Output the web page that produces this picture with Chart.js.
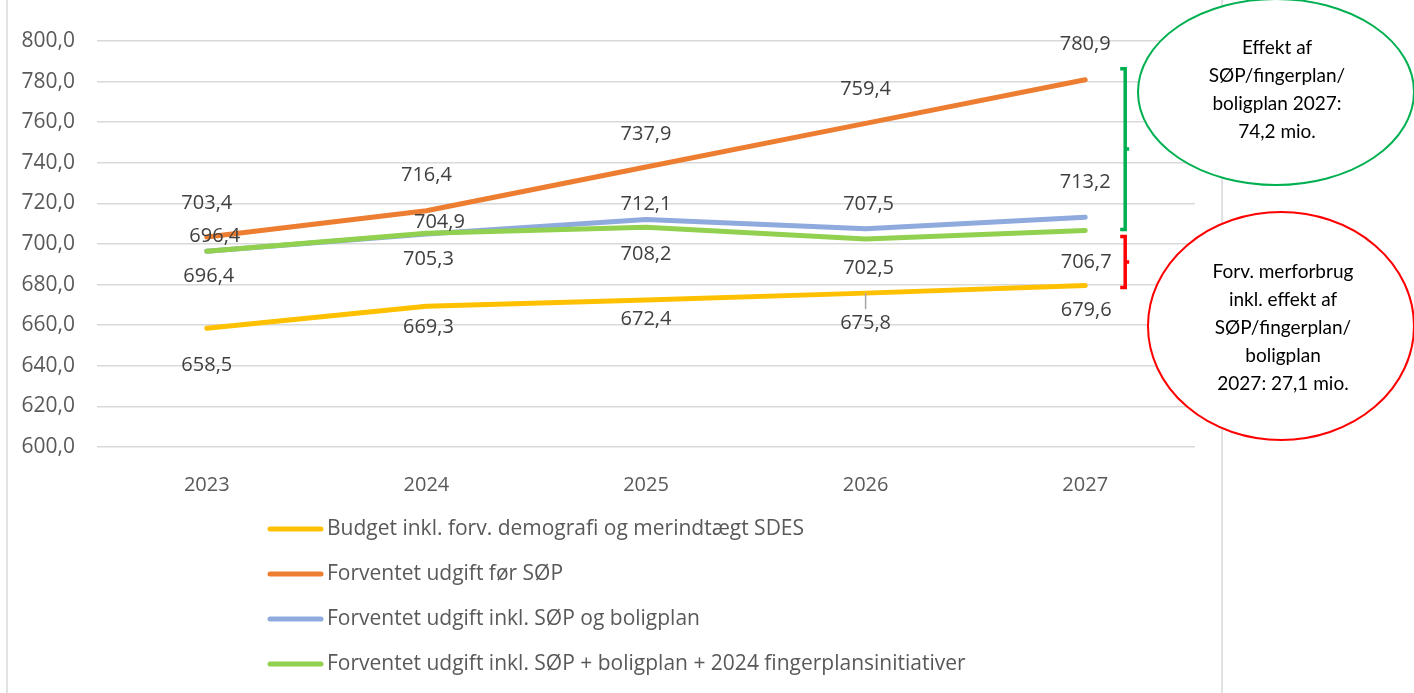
<!DOCTYPE html>
<html>
<head>
<meta charset="utf-8">
<script src="https://cdn.jsdelivr.net/npm/chart.js@4.4.1/dist/chart.umd.min.js"></script>
<style>
  body { margin: 0; background: #fff; }
  #wrap { width: 1414px; height: 693px; position: relative; }
</style>
</head>
<body>
<div id="wrap"><canvas id="myChart"></canvas></div>
<script>
// data
let years = ['2023', '2024', '2025', '2026', '2027'];
let budget = [658.5, 669.3, 672.4, 675.8, 679.6];
let foerSop = [703.4, 716.4, 737.9, 759.4, 780.9];
let inklSop = [696.4, 704.9, 712.1, 707.5, 713.2];
let inklFinger = [696.4, 705.3, 708.2, 702.5, 706.7];
let seriesNames = [
    'Budget inkl. forv. demografi og merindtægt SDES',
    'Forventet udgift før SØP',
    'Forventet udgift inkl. SØP og boligplan',
    'Forventet udgift inkl. SØP + boligplan + 2024 fingerplansinitiativer'
];
let colors = ['#FFC000', '#ED7D31', '#8FAADC', '#92D050'];

// where each data label sits relative to its point (px), as moved by hand in the original
let labelDx = [
    [0, 2, 0, 0, 1],
    [0, 0, 0, 0, 0],
    [8, 13, 0, 3, 0],
    [2, 2, 0, 3, 1]
];
let labelDy = [
    [37, 21, 19, 30, 25],
    [-34, -35, -33, -34, -35],
    [-15, -12, -15, -24, -35],
    [25, 26, 27, 29, 32]
];

let fmt = v => v.toFixed(1).replace('.', ',');

Chart.defaults.font.family = "'Open Sans', sans-serif";
Chart.defaults.color = '#595959';

let frame = {
    id: 'frame',
    beforeDraw(chart) {
        let c = chart.ctx;
        c.save();
        c.fillStyle = '#fff';
        c.fillRect(0, 0, chart.width, chart.height);
        c.strokeStyle = '#d9d9d9';
        c.lineWidth = 1.5;
        c.beginPath();
        c.moveTo(7, 0); c.lineTo(7, chart.height);
        c.moveTo(1222, 0); c.lineTo(1222, chart.height);
        c.stroke();
        c.restore();
    }
};

let extras = {
    id: 'extras',
    afterDraw(chart) {
        let c = chart.ctx;
        let xs = chart.scales.x, ys = chart.scales.y;
        c.save();

        // data labels
        c.font = "20px 'Open Sans'";
        c.fillStyle = '#404040';
        c.textAlign = 'center';
        c.textBaseline = 'middle';
        chart.data.datasets.forEach((ds, d) => {
            ds.data.forEach((v, i) => {
                let px = xs.getPixelForValue(i) + labelDx[d][i];
                let py = ys.getPixelForValue(v) + labelDy[d][i];
                c.fillText(fmt(v), px, py);
            });
        });

        // leader line for 675,8
        let lx = xs.getPixelForValue(3);
        c.strokeStyle = '#a6a6a6';
        c.lineWidth = 1.5;
        c.beginPath();
        c.moveTo(lx, ys.getPixelForValue(budget[3]));
        c.lineTo(lx, ys.getPixelForValue(budget[3]) + 16);
        c.stroke();

        // brackets at 2027
        let bx = xs.getPixelForValue(4) + 40;
        let bracket = (top, bottom, padTop, padBottom, color) => {
            let y1 = ys.getPixelForValue(top) + padTop;
            let y2 = ys.getPixelForValue(bottom) + padBottom;
            c.strokeStyle = color;
            c.lineWidth = 3.5;
            c.lineCap = 'butt';
            c.beginPath();
            c.moveTo(bx - 5, y1); c.lineTo(bx, y1); c.lineTo(bx, y2); c.lineTo(bx - 5, y2);
            c.moveTo(bx, (y1 + y2) / 2); c.lineTo(bx + 4, (y1 + y2) / 2);
            c.stroke();
        };
        bracket(foerSop[4], inklFinger[4], -11, -1, '#00B050');
        bracket(inklFinger[4], budget[4], 6, 2, '#FF0000');

        // callout ellipses
        let bubble = (cx, cy, rx, ry, color, lines, firstY, tx) => {
            c.beginPath();
            c.ellipse(cx, cy, rx, ry, 0, 0, Math.PI * 2);
            c.fillStyle = '#fff';
            c.fill();
            c.strokeStyle = color;
            c.lineWidth = 2;
            c.stroke();
            c.fillStyle = '#000';
            c.font = "19px Lato";
            lines.forEach((t, i) => c.fillText(t, tx, firstY + i * 28));
        };
        bubble(1276, 92, 138, 93, '#00B050',
            ['Effekt af', 'SØP/fingerplan/', 'boligplan 2027:', '74,2 mio.'], 48, 1277);
        bubble(1281, 326, 133, 114, '#FF0000',
            ['Forv. merforbrug', 'inkl. effekt af', 'SØP/fingerplan/', 'boligplan', '2027: 27,1 mio.'], 272, 1283);

        // legend, one entry per row
        c.textAlign = 'left';
        c.font = "21px 'Open Sans'";
        seriesNames.forEach((name, i) => {
            let y = 529 + i * 45;
            c.strokeStyle = colors[i];
            c.lineWidth = 5;
            c.lineCap = 'round';
            c.beginPath();
            c.moveTo(270, y); c.lineTo(321, y);
            c.stroke();
            c.fillStyle = '#595959';
            c.fillText(name, 327, y);
        });

        c.restore();
    }
};

let seriesData = [budget, foerSop, inklSop, inklFinger];
let drawOrder = [0, 1, 3, 2];

let ctx = document.getElementById('myChart').getContext('2d');
let myChart = new Chart(ctx, {
    type: 'line',
    data: {
        labels: years,
        datasets: seriesData.map((vals, i) => ({
            label: seriesNames[i],
            data: vals,
            borderColor: colors[i],
            backgroundColor: colors[i],
            borderWidth: 5,
            borderCapStyle: 'round',
            borderJoinStyle: 'round',
            pointRadius: 0,
            tension: 0,
            order: drawOrder[i]
        }))
    },
    options: {
        responsive: true,
        maintainAspectRatio: false,
        animation: false,
        layout: { padding: { left: 0, right: 219, top: 41, bottom: 0 } },
        scales: {
            x: {
                offset: true,
                grid: { display: false },
                border: { display: false },
                ticks: { font: { size: 20 }, color: '#595959', padding: 18 },
                afterFit: s => { s.height = 246; }
            },
            y: {
                min: 600,
                max: 800,
                grid: { color: '#d9d9d9', lineWidth: 1.5, drawTicks: false },
                border: { display: false },
                ticks: {
                    stepSize: 20,
                    padding: 22,
                    font: { size: 21 },
                    color: '#595959',
                    callback: v => fmt(v)
                },
                afterFit: s => { s.width = 97; }
            }
        },
        plugins: {
            legend: { display: false },
            tooltip: { enabled: false }
        }
    },
    plugins: [frame, extras]
});
</script>
</body>
</html>
